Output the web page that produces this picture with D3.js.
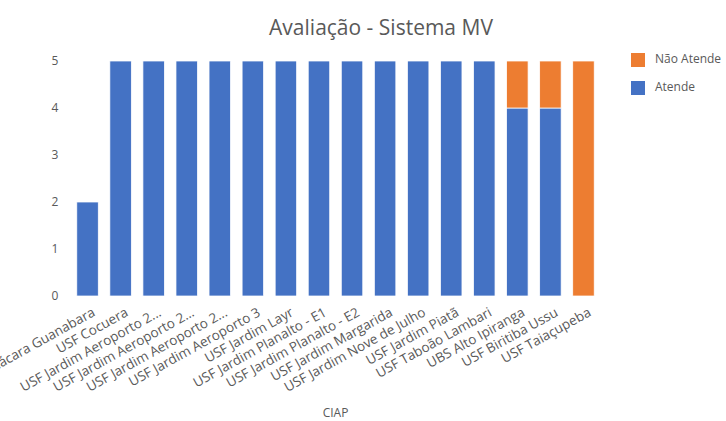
<!DOCTYPE html>
<html><head><meta charset="utf-8">
<script src="https://cdn.jsdelivr.net/npm/d3@7"></script>
<style>body{margin:0;background:#fff}svg{display:block}</style>
</head><body>
<svg id="c" width="726" height="421"></svg>
<script>
const categories = ["USF Chácara Guanabara","USF Cocuera","USF Jardim Aeroporto 2...","USF Jardim Aeroporto 2...","USF Jardim Aeroporto 2...","USF Jardim Aeroporto 3","USF Jardim Layr","USF Jardim Planalto - E1","USF Jardim Planalto - E2","USF Jardim Margarida","USF Jardim Nove de Julho","USF Jardim Piatã","USF Taboão Lambari","UBS Alto Ipiranga","USF Biritiba Ussu","USF Taiaçupeba"];
const atende    = [2,5,5,5,5,5,5,5,5,5,5,5,5,4,4,0];
const naoAtende = [0,0,0,0,0,0,0,0,0,0,0,0,0,1,1,5];
const seriesNames = ["Atende","Não Atende"];
const colors = ["#4472C4","#ED7D31"];
const yTicks = [0,1,2,3,4,5];
const title = "Avaliação - Sistema MV";
const xTitle = "CIAP";

const svg = d3.select("#c");
const font = "'Open Sans', sans-serif";
const x = d3.scaleBand().domain(d3.range(categories.length)).range([71,600]).paddingInner(0.35).paddingOuter(0.175);
const y = d3.scaleLinear().domain([0,5]).range([296,61]);

const rows = categories.map((c,i)=>({i, Atende: atende[i], "Não Atende": naoAtende[i]}));
const stacked = d3.stack().keys(seriesNames)(rows);

svg.append("text").attr("x",381).attr("y",35).attr("text-anchor","middle")
  .attr("font-family",font).attr("font-size",21).attr("fill","#595959").text(title);

const g = svg.append("g");
stacked.forEach((s,k)=>{
  g.selectAll(null).data(s.filter(d=>d[1]-d[0]>0)).enter().append("rect")
    .attr("x",d=>x(d.data.i)).attr("width",x.bandwidth())
    .attr("y",d=>y(d[1])).attr("height",d=>y(d[0])-y(d[1]))
    .attr("fill",colors[k]).attr("stroke","#ffffff").attr("stroke-width",0.75);
});

const yAxis = svg.append("g").attr("transform","translate(60,0)")
  .call(d3.axisLeft(y).tickValues(yTicks).tickSize(0).tickPadding(0).tickFormat(d3.format("d")));
yAxis.select(".domain").remove();
yAxis.selectAll("text").attr("font-family",font).attr("font-size",12).attr("fill","#595959").attr("text-anchor","middle").attr("x",-5);

const xAxis = svg.append("g").attr("transform","translate(0,296)")
  .call(d3.axisBottom(x).tickSize(0).tickFormat(i=>categories[i]));
xAxis.select(".domain").remove();
xAxis.selectAll("text").attr("font-family",font).attr("font-size",13.5).attr("fill","#595959")
  .attr("text-anchor","end").attr("dy",null).attr("y",0)
  .attr("transform",d=>`translate(${x.bandwidth()/2-4},16) rotate(-29)`).attr("x",0).attr("dominant-baseline","middle");

svg.append("text").attr("x",335.5).attr("y",417).attr("text-anchor","middle")
  .attr("font-family",font).attr("font-size",12).attr("fill","#595959").text(xTitle);

const legendItems = ["Não Atende","Atende"];
const legendColors = ["#ED7D31","#4472C4"];
const lg = svg.append("g");
legendItems.forEach((n,i)=>{
  lg.append("rect").attr("x",631).attr("y",53+i*28).attr("width",14).attr("height",14).attr("fill",legendColors[i]);
  lg.append("text").attr("x",655).attr("y",60+i*28).attr("dominant-baseline","middle")
    .attr("font-family",font).attr("font-size",12).attr("fill","#595959").text(n);
});
</script>
</body></html>
